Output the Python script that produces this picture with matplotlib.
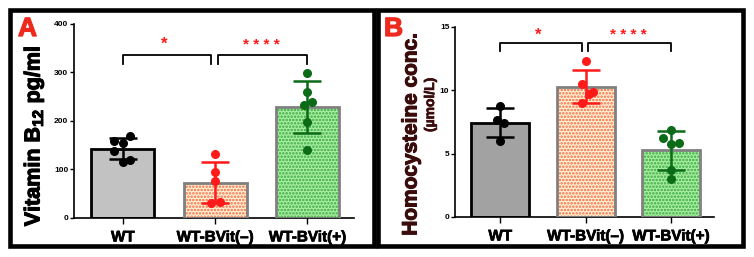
import numpy as np
import matplotlib
matplotlib.use("Agg")
import matplotlib.pyplot as plt
import matplotlib.patheffects as pe
from matplotlib.patches import Rectangle

plt.rcParams['font.family'] = ['Liberation Sans', 'DejaVu Sans']
plt.rcParams['font.weight'] = 'bold'
plt.rcParams['mathtext.fontset'] = 'custom'
plt.rcParams['mathtext.rm'] = 'Liberation Sans:bold'
plt.rcParams['mathtext.bf'] = 'Liberation Sans:bold'
plt.rcParams['hatch.linewidth'] = 1.2

# data
groups = ['WT', 'WT-BVit(–)', 'WT-BVit(+)']

b12_mean = [143, 73, 229]
b12_sd = [21, 43, 54]
b12_pts = [[169, 159, 154, 137, 116, 120],
           [131, 95, 76, 30, 33],
           [299, 259, 240, 233, 197, 140]]
b12_jit = [[0.08, -0.1, 0.0, -0.1, 0.0, 0.08],
           [0.0, 0.0, 0.0, -0.04, 0.05],
           [0.0, 0.0, 0.05, -0.04, 0.0, 0.0]]

hcy_mean = [7.45, 10.29, 5.26]
hcy_sd = [1.15, 1.28, 1.56]
hcy_pts = [[8.76, 7.66, 7.45, 5.97],
           [12.34, 10.5, 9.89, 9.68, 9.02],
           [6.87, 6.26, 5.87, 5.76, 3.71, 2.97]]
hcy_jit = [[0.0, -0.04, 0.04, 0.0],
           [0.0, -0.04, 0.09, 0.045, -0.04],
           [0.0, -0.09, 0.09, 0.0, 0.0, 0.0]]

dot_col = ['black', '#ff1a1a', '#0b6b16']
hatch_col = [None, '#f26a4a', '#3aa83a']
edge_col = ['black', '#808080', '#808080']

fig = plt.figure(figsize=(7.54, 2.57), dpi=100)


def heavy(t, w=0.9):
    t.set_path_effects([pe.withStroke(linewidth=w, foreground=t.get_color())])
    return t


def panel(ax, means, sds, pts, jit, fills, ymax, yticks, br_y, br_h, star_y):
    x = np.arange(len(groups))
    for i in range(len(groups)):
        ax.bar(x[i], means[i], width=0.68, color=fills[i], edgecolor='none', zorder=1)
        if hatch_col[i]:
            ax.bar(x[i], means[i], width=0.68, color='none', edgecolor=hatch_col[i],
                   hatch='.....', linewidth=0, zorder=2)
        ax.bar(x[i], means[i], width=0.68, color='none', edgecolor=edge_col[i],
               linewidth=2.0, zorder=3)
        ax.errorbar(x[i], means[i], yerr=sds[i], color=dot_col[i], capsize=10,
                    capthick=1.8, elinewidth=1.8, zorder=4)
        ax.scatter(x[i] + np.array(jit[i]), pts[i], s=30, color=dot_col[i], zorder=5)
    # significance brackets
    for a, b in [(0, 0.96), (1.03, 2)]:
        ax.plot([a, a, b, b], [br_y - br_h, br_y, br_y, br_y - br_h], color='black',
                lw=1.3, clip_on=False)
    ax.text(0.45, star_y, '*', color='#ff1a1a', fontsize=12, ha='center', va='center')
    ax.text(1.5, star_y, '* * * *', color='#ff1a1a', fontsize=11, ha='center', va='center')
    ax.set_xlim(-0.53, 2.5)
    ax.set_ylim(0, ymax)
    ax.set_yticks(yticks)
    ax.set_xticks(x)
    ax.set_xticklabels(groups, fontsize=11, fontweight='bold')
    for t in ax.get_xticklabels():
        heavy(t, 0.5)
    ax.tick_params(axis='y', labelsize=6, length=3, width=1, pad=1)
    ax.tick_params(axis='x', length=4, width=1, pad=5)
    for s in ['top', 'right']:
        ax.spines[s].set_visible(False)
    for s in ['left', 'bottom']:
        ax.spines[s].set_linewidth(1.2)


axA = fig.add_axes([0.098, 0.152, 0.371, 0.755])
panel(axA, b12_mean, b12_sd, b12_pts, b12_jit,
      ['#c2c2c2', '#fff0d0', '#a8eea4'], 400, [0, 100, 200, 300, 400],
      335, 17, 357)

axB = fig.add_axes([0.6034, 0.156, 0.343, 0.739])
panel(axB, hcy_mean, hcy_sd, hcy_pts, hcy_jit,
      ['#a2a2a2', '#fff0d0', '#a8eea4'], 15, [0, 5, 10, 15],
      13.73, 0.66, 14.35)

# frames around the panels
fr = dict(fill=False, lw=3.3, edgecolor='black', transform=fig.transFigure)
fig.patches.append(Rectangle((9.7 / 754, 11 / 257), (373.5 - 9.7) / 754, (246.7 - 11) / 257, **fr))
fig.patches.append(Rectangle((377.5 / 754, 11 / 257), (743 - 377.5) / 754, (246.7 - 11) / 257, **fr))

# panel letters
heavy(fig.text(18 / 754, 1 - 36 / 257, 'A', color='#ee2a1e', fontsize=19, fontweight='bold'))
heavy(fig.text(384 / 754, 1 - 36 / 257, 'B', color='#ee2a1e', fontsize=19, fontweight='bold'))

# y labels
heavy(fig.text(34 / 754, 1 - 136 / 257, 'Vitamin B$_{12}$ pg/ml', rotation=90, fontsize=15.5,
               fontweight='bold', ha='center', va='center', color='black'), 0.8)
heavy(fig.text(411 / 754, 1 - 134 / 257, 'Homocysteine conc.', rotation=90, fontsize=15,
               fontweight='bold', ha='center', va='center', color='#3a0c0c'), 0.8)
heavy(fig.text(430 / 754, 1 - 105 / 257, '(µmol/L)', rotation=90, fontsize=10,
               fontweight='bold', ha='center', va='center', color='#3a0c0c'), 0.5)

fig.savefig('out.png', dpi=100)
